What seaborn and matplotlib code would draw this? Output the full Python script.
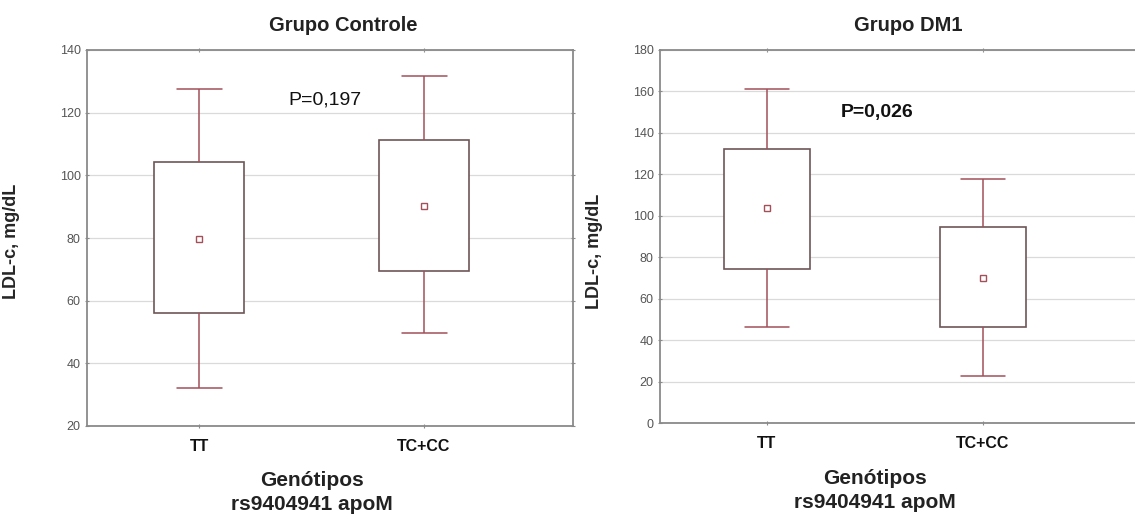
import numpy as np
import pandas as pd
import matplotlib.pyplot as plt
import seaborn as sns

sns.set_style("whitegrid")
plt.rcParams['font.family'] = ['Liberation Sans', 'DejaVu Sans']

# Values (mean, box and whisker limits per genotype)
genotypes = ["TT", "TC+CC"]

ctrl_low = [32.2, 49.6]
ctrl_q1 = [56.0, 69.5]
ctrl_mean = [79.6, 90.2]
ctrl_q3 = [104.2, 111.2]
ctrl_high = [127.6, 131.6]

dm1_low = [46.2, 22.8]
dm1_q1 = [74.2, 46.2]
dm1_mean = [103.6, 69.8]
dm1_q3 = [132.4, 94.4]
dm1_high = [161.3, 117.9]

titles = ["Grupo Controle", "Grupo DM1"]
p_texts = ["P=0,197", "P=0,026"]
y_ticks = [[20, 40, 60, 80, 100, 120, 140], [0, 20, 40, 60, 80, 100, 120, 140, 160, 180]]

BOX_COLOR = "#6e5656"
WHISK_COLOR = "#a2505a"
TICK_COLOR = "#555555"


def makeFrame(low, q1, mean, q3, high):
    """
    Five values per genotype so the box spans q1-q3 and whiskers reach low/high.
    """
    rows = []
    for i, g in enumerate(genotypes):
        for v in [low[i], q1[i], mean[i], q3[i], high[i]]:
            rows.append((g, v))
    return pd.DataFrame(rows, columns=["Genotipo", "LDL"])


def drawPanel(ax, df, means, title, ptext, pxy, pbold, ylim, yticks, xlim,
              title_x, ylab_xy, xlab_xy):
    sns.boxplot(data=df, x="Genotipo", y="LDL", order=genotypes, ax=ax,
                width=0.4, whis=np.inf, color="white", saturation=1,
                linecolor=BOX_COLOR, linewidth=1.2, fliersize=0,
                whiskerprops={"color": WHISK_COLOR, "linewidth": 1.1},
                capprops={"color": WHISK_COLOR, "linewidth": 1.1},
                medianprops={"visible": False})
    sns.pointplot(x=genotypes, y=means, order=genotypes, ax=ax,
                  linestyle="none", marker="s", markersize=4.5,
                  color=WHISK_COLOR, markerfacecolor="white",
                  markeredgewidth=1.0, errorbar=None)

    ax.set_ylim(*ylim)
    ax.set_yticks(yticks)
    ax.set_xlim(*xlim)
    ax.grid(axis="x", visible=False)
    ax.grid(axis="y", color="#dadada", linewidth=0.9)
    for s in ax.spines.values():
        s.set_visible(True)
        s.set_color("#8a8a8a")
        s.set_linewidth(1.3)
    ax.tick_params(axis="y", labelsize=9, labelcolor=TICK_COLOR, length=3,
                   direction="inout", color="#8a8a8a", left=True, right=True, pad=3)
    ax.tick_params(axis="x", labelsize=11.5, length=3, direction="inout",
                   color="#8a8a8a", bottom=True, top=True, pad=8)
    for lab in ax.get_xticklabels():
        lab.set_fontweight("bold")
        lab.set_color("#111111")

    ax.text(title_x, 1.066, title, transform=ax.transAxes, ha="center",
            va="center", fontsize=14.5, fontweight="bold", color="#222222")
    ax.text(pxy[0], pxy[1], ptext, ha="center", va="center", fontsize=14,
            fontweight="bold" if pbold else "normal", color="#111111")

    ax.set_ylabel("LDL-c, mg/dL", fontsize=13, fontweight="bold")
    ax.yaxis.set_label_coords(*ylab_xy)
    ax.set_xlabel("Genótipos\nrs9404941 apoM", fontsize=15, fontweight="bold",
                  color="#222222", linespacing=1.3)
    ax.xaxis.set_label_coords(*xlab_xy)


fig = plt.figure(figsize=(11.35, 5.21), dpi=100)
ax1 = fig.add_axes([87 / 1135, 1 - 426 / 521, 486 / 1135, 376 / 521])
ax2 = fig.add_axes([660 / 1135, 1 - 423 / 521, 500 / 1135, 373 / 521])

drawPanel(ax1, makeFrame(ctrl_low, ctrl_q1, ctrl_mean, ctrl_q3, ctrl_high),
          ctrl_mean, titles[0], p_texts[0], (0.56, 124), False,
          (20, 140), y_ticks[0], (-0.498, 1.662), 0.527, (-0.138, 0.49), (0.463, -0.12))
drawPanel(ax2, makeFrame(dm1_low, dm1_q1, dm1_mean, dm1_q3, dm1_high),
          dm1_mean, titles[1], p_texts[1], (0.51, 149.6), True,
          (0, 180), y_ticks[1], (-0.495, 1.819), 0.496, (-0.114, 0.46), (0.43, -0.124))

fig.savefig("out.png", dpi=100)
